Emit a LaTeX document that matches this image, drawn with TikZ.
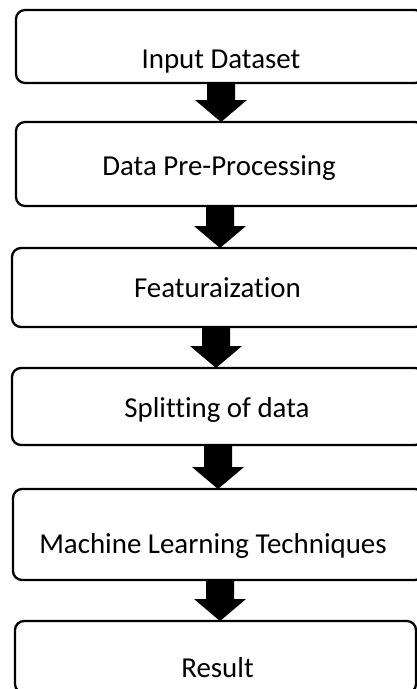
\documentclass[tikz,border=0pt]{standalone}
\usepackage{fontspec}
\setmainfont{Carlito}[Ligatures={NoCommon}]
\usetikzlibrary{calc}
\tikzset{
  box/.style={draw=black, line width=2.3pt, rounded corners=9pt, rectangle, inner sep=0pt, outer sep=0pt},
  lbl/.style={font=\fontsize{28.9}{34}\selectfont, anchor=base, inner sep=0pt, text=black},
  blk/.style={fill=black}
}
% #1 upper box, #2 lower box, #3 x centre of arrow
\newcommand\blkarrow[3]{%
  \fill[blk] let \p1=(#1.south), \p2=(#2.north) in
    (#3pt-14pt,\y1) -- (#3pt+14pt,\y1) -- (#3pt+14pt,\y2+22pt) -- (#3pt+26pt,\y2+22pt)
    -- (#3pt,\y2) -- (#3pt-26pt,\y2+22pt) -- (#3pt-14pt,\y2+22pt) -- cycle;}
\begin{document}
\begin{tikzpicture}[x=1pt,y=-1pt]
\useasboundingbox (0,0) rectangle (417,689);
\clip (0,0) rectangle (417,689);
\fill[white] (0,0) rectangle (417,689);
\node[box, minimum width=408pt, minimum height=73pt] (b1) at (220,46.5) {};
\node[box, minimum width=408pt, minimum height=84pt] (b2) at (220,164) {};
\node[box, minimum width=412pt, minimum height=79pt] (b3) at (218,287.5) {};
\node[box, minimum width=412pt, minimum height=77pt] (b4) at (218,406.5) {};
\node[box, minimum width=411pt, minimum height=91pt] (b5) at (218.5,534.5) {};
\node[box, minimum width=401pt, minimum height=72pt] (b6) at (215.5,657) {};
\node[lbl] (t1) at (221,68) {Input Dataset};
\node[lbl] (t2) at (219,175) {Data Pre-Processing};
\node[lbl] (t3) at (217.5,297) {Featuraization};
\node[lbl] (t4) at (217,417) {Splitting of data};
\node[lbl] (t5) at (213,553) {Machine Learning Techniques};
\node[lbl] (t6) at (217.5,677) {Result};
\blkarrow{b1}{b2}{221}
\blkarrow{b2}{b3}{220}
\blkarrow{b3}{b4}{216}
\blkarrow{b4}{b5}{218}
\blkarrow{b5}{b6}{220}
\end{tikzpicture}
\end{document}
